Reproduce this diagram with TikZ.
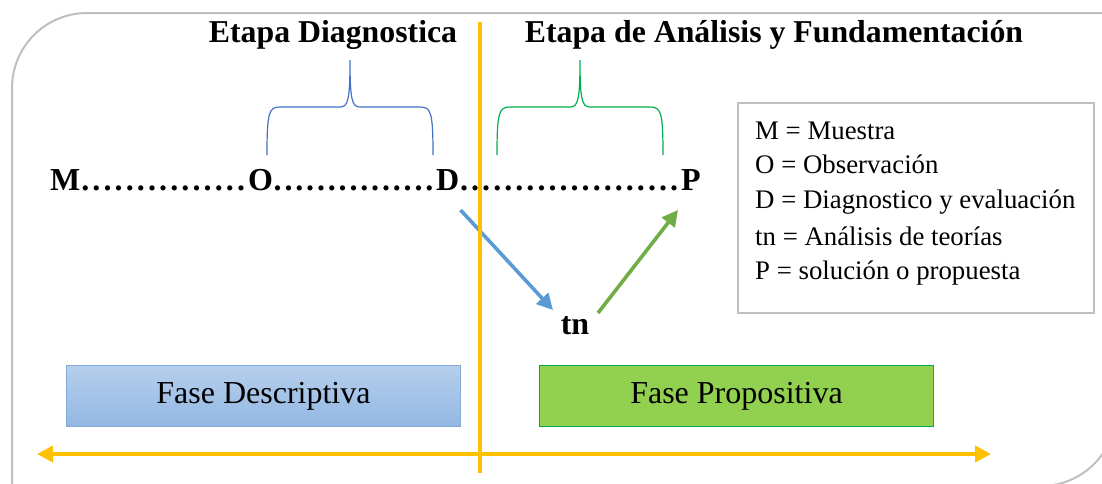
\documentclass[tikz,border=0pt]{standalone}
\usepackage{fontspec}
\setmainfont{Liberation Serif}
\usetikzlibrary{arrows.meta,calc}
\definecolor{frame}{HTML}{BFBFBF}
\definecolor{orangeln}{HTML}{FFC000}
\definecolor{bracebl}{HTML}{4472C4}
\definecolor{bracegr}{HTML}{00B050}
\definecolor{arrbl}{HTML}{5B9BD5}
\definecolor{arrgr}{HTML}{70AD47}
\definecolor{boxbltop}{HTML}{B6CFEC}
\definecolor{boxblbot}{HTML}{93B7E3}
\definecolor{boxbldraw}{HTML}{7FAADB}
\definecolor{boxgr}{HTML}{92D050}
\newcommand\dotrowfill[1]{\hbox to #1{\xleaders\hbox to 10.6pt{.\hss}\hfill}}
\tikzset{
  heading/.style={font=\fontsize{31.8}{36}\selectfont\bfseries, inner sep=0pt, anchor=base},
  rowtxt/.style={font=\fontsize{32}{36}\selectfont\bfseries, inner sep=0pt, anchor=base west},
  legtxt/.style={font=\fontsize{26.8}{32}\selectfont, inner sep=0pt, anchor=base west},
  phasebox/.style={minimum width=394pt, minimum height=61pt, anchor=north west, inner sep=0pt, font=\fontsize{32}{36}\selectfont, line width=1pt},
  bracestyle/.style={line width=1.2pt},
  conn/.style={line width=3.6pt, -{Triangle[length=16pt,width=16pt]}},
}
\begin{document}
\begin{tikzpicture}[x=1pt,y=-1pt]
\useasboundingbox (0,0) rectangle (1102,483);
\begin{scope}
\clip (0,0) rectangle (1102,483);
% outer frame
\draw[frame, line width=2pt] (12,520) -- (12,88) .. controls (12,46.6) and (45.6,13) .. (87,13) -- (1200,13);
\draw[frame, line width=2pt] (1116,300) -- (1116,411) .. controls (1116,452.4) and (1082.4,486) .. (1041,486) -- (900,486);
\end{scope}

% headings
\node[heading] (h1) at (333,42) {Etapa Diagnostica};
\node[heading] (h2) at (774,42) {Etapa de Análisis y Fundamentación};

% braces
\draw[bracestyle, bracebl] (267,155) .. controls (267,112) and (269,107) .. (280,107) -- (340,107) .. controls (348,107) and (350,100) .. (350,60) .. controls (350,100) and (352,107) .. (360,107) -- (420,107) .. controls (431,107) and (433,112) .. (433,155);
\draw[bracestyle, bracegr] (497,155) .. controls (497,112) and (499,107) .. (510,107) -- (570,107) .. controls (578,107) and (580,100) .. (580,60) .. controls (580,100) and (582,107) .. (590,107) -- (650,107) .. controls (661,107) and (663,112) .. (663,155);

% dotted row
\node[rowtxt] (M) at (50,190) {M};
\node[rowtxt] (O) at (248,190) {O};
\node[rowtxt] (D) at (436,190) {D};
\node[rowtxt] (P) at (681,190) {P};
\path let \p1=(M.base east), \p2=(O.base west) in node[rowtxt] (d1) at (\p1) {\dotrowfill{\dimexpr\x2-\x1\relax}};
\path let \p1=(O.base east), \p2=(D.base west) in node[rowtxt] (d2) at (\p1) {\dotrowfill{\dimexpr\x2-\x1\relax}};
\path let \p1=(D.base east), \p2=(P.base west) in node[rowtxt] (d3) at (\p1) {\dotrowfill{\dimexpr\x2-\x1\relax}};

% tn
\node[font=\fontsize{32}{36}\selectfont\bfseries, inner sep=0pt] (tn) at (575,326) {tn};

% connectors
\draw[conn, arrbl] ([xshift=1pt,yshift=-20pt]D.base east) -- ([xshift=-22pt,yshift=16pt]tn.center);
\draw[conn, arrgr] ([xshift=23pt,yshift=13pt]tn.center) -- ([xshift=-3pt,yshift=-20pt]P.base west);

% legend
\node[draw=frame, line width=1.5pt, minimum width=356pt, minimum height=210pt, anchor=north west, inner sep=0pt] (legend) at (737,102) {};
\node[legtxt] (l1) at (755,139) {M = Muestra};
\node[legtxt] (l2) at (755,173) {O = Observación};
\node[legtxt] (l3) at (755,208) {D = Diagnostico y evaluación};
\node[legtxt] (l4) at (755,245) {tn = Análisis de teorías};
\node[legtxt] (l5) at (755,279) {P = solución o propuesta};

% phase boxes
\node[phasebox, draw=boxbldraw, top color=boxbltop, bottom color=boxblbot] (fd) at (66,365) {Fase Descriptiva};
\node[phasebox, draw=bracegr, fill=boxgr] (fp) at (539,365) {Fase Propositiva};

% horizontal double arrow
\coordinate (hl) at (37,454);
\coordinate (hr) at (991,454);
\draw[orangeln, line width=4pt, {Triangle[length=16pt,width=16pt]}-{Triangle[length=16pt,width=16pt]}] (hl) -- (hr);

% vertical separator
\coordinate (vt) at (480,22);
\coordinate (vb) at (480,473);
\draw[orangeln, line width=4pt] (vt) -- (vb);
\end{tikzpicture}
\end{document}
